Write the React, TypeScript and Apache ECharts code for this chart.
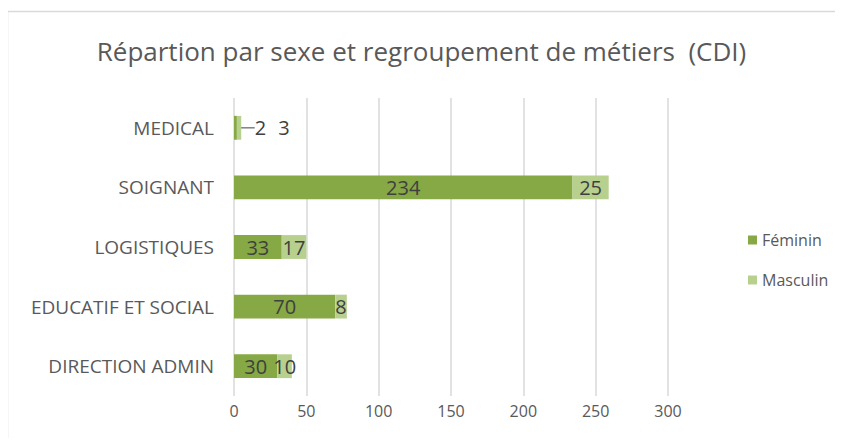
import React, { useEffect, useRef } from "react";
import * as echarts from "echarts";

const categories = ["DIRECTION ADMIN", "EDUCATIF ET SOCIAL", "LOGISTIQUES", "SOIGNANT", "MEDICAL"];
const feminin = [30, 70, 33, 234, 2];
const masculin = [10, 8, 17, 25, 3];
const xTicks = [0, 50, 100, 150, 200, 250, 300];

const FONT = "Open Sans";

export default function App() {
  const ref = useRef<HTMLDivElement>(null);
  useEffect(() => {
    const chart = echarts.init(ref.current!, null, { renderer: "svg" });
    const labelBase = {
      show: true,
      position: "inside" as const,
      color: "#404040",
      fontSize: 20,
      fontFamily: FONT,
    };
    chart.setOption({
      animation: false,
      title: {
        text: "Répartion par sexe et regroupement de métiers  (CDI)",
        left: "center",
        top: 33,
        textStyle: { color: "#595959", fontSize: 26, fontWeight: "normal", fontFamily: FONT },
      },
      graphic: [
        {
          type: "line",
          silent: true,
          shape: { x1: 7, y1: 11.5, x2: 843, y2: 11.5 },
          style: { stroke: "#d9d9d9", lineWidth: 1.5 },
        },
        {
          type: "line",
          silent: true,
          shape: { x1: 7.5, y1: 11, x2: 7.5, y2: 446 },
          style: { stroke: "#d9d9d9", lineWidth: 1.5 },
        },
      ],
      legend: {
        orient: "vertical",
        left: 743,
        top: 227,
        itemGap: 24,
        itemWidth: 9,
        itemHeight: 9,
        icon: "rect",
        textStyle: { color: "#595959", fontSize: 16, fontFamily: FONT },
        data: ["Féminin", "Masculin"],
      },
      grid: { left: 234, right: 175, top: 98, bottom: 50, containLabel: false },
      xAxis: {
        type: "value",
        min: xTicks[0],
        max: xTicks[xTicks.length - 1],
        interval: 50,
        axisLine: { show: false },
        axisTick: { show: false },
        splitLine: { lineStyle: { color: "#d9d9d9", width: 1.5 } },
        axisLabel: { color: "#595959", fontSize: 16, fontFamily: FONT, margin: 7 },
      },
      yAxis: {
        type: "category",
        data: categories,
        axisLine: { show: false },
        axisTick: { show: false },
        axisLabel: { color: "#595959", fontSize: 19, fontFamily: FONT, margin: 20 },
      },
      series: [
        {
          name: "Féminin",
          type: "bar",
          stack: "total",
          barCategoryGap: "60%",
          data: feminin,
          itemStyle: { color: "#86A845" },
          label: labelBase,
          labelLine: { show: true, lineStyle: { color: "#808080", width: 1.5 } },
          labelLayout: (p: any) => (p.dataIndex === 4 ? { dx: 25 } : {}),
        },
        {
          name: "Masculin",
          type: "bar",
          stack: "total",
          barCategoryGap: "60%",
          data: masculin,
          itemStyle: { color: "#B8D08E" },
          label: labelBase,
          labelLayout: (p: any) => (p.dataIndex === 4 ? { dx: 45 } : {}),
        },
      ],
    });
    return () => chart.dispose();
  }, []);
  return (
    <div style={{ position: "relative", width: 843, height: 446, margin: -8, overflow: "hidden", background: "#fff" }}>
      <div ref={ref} style={{ position: "absolute", left: 0, top: 0, width: 843, height: 446 }} />
    </div>
  );
}
